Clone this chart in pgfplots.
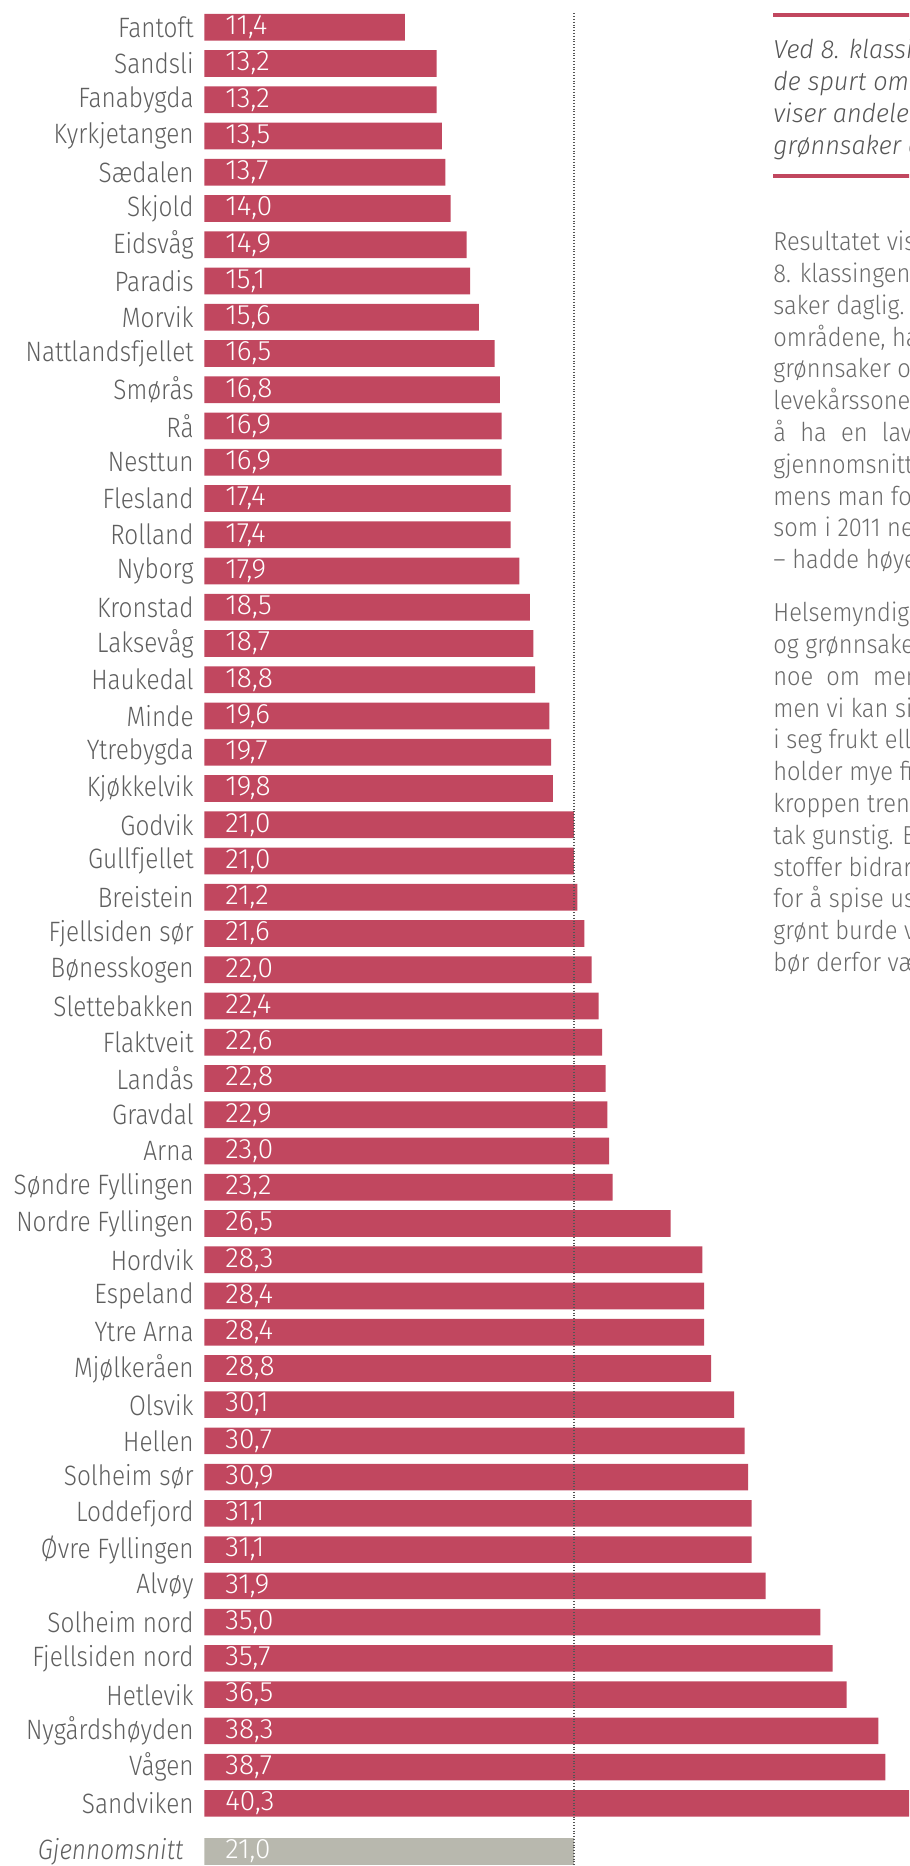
\documentclass[border=0pt]{standalone}
\usepackage{fontspec}
\usepackage{pgfplots}
\usepackage{pgfplotstable}
\pgfplotsset{compat=1.18}
\IfFontExistsTF{Fira Sans Light}{\def\basefam{Fira Sans Light}}{\def\basefam{Fira Sans}}
\setmainfont{\basefam}
\newfontfamily\labelfamily{\basefam}[FakeStretch=0.87]
\newfontfamily\valfamily{\basefam}
\newfontfamily\bodyfamily{\basefam}[FakeStretch=0.91]
\newfontfamily\italfamily{\basefam}[FakeStretch=0.97]
\newcommand\labelfont{\labelfamily\fontsize{14pt}{16pt}\selectfont}
\newcommand\valfont{\valfamily\fontsize{14pt}{16pt}\selectfont}
\newcommand\bodyfont{\bodyfamily\fontsize{13pt}{15.9pt}\selectfont}
\newcommand\italfont{\italfamily\fontsize{13pt}{15.9pt}\selectfont\itshape}
\definecolor{barred}{HTML}{C1475F}
\definecolor{avggray}{HTML}{B8B8AE}
\definecolor{labelgray}{HTML}{5F5F5F}
\definecolor{bodygray}{HTML}{6A6A6A}
\definecolor{italgray}{HTML}{555555}
\definecolor{dotgray}{HTML}{555555}

\pgfplotstableread{
y v
0 11.4
1 13.2
2 13.2
3 13.5
4 13.7
5 14.0
6 14.9
7 15.1
8 15.6
9 16.5
10 16.8
11 16.9
12 16.9
13 17.4
14 17.4
15 17.9
16 18.5
17 18.7
18 18.8
19 19.6
20 19.7
21 19.8
22 21.0
23 21.0
24 21.2
25 21.6
26 22.0
27 22.4
28 22.6
29 22.8
30 22.9
31 23.0
32 23.2
33 26.5
34 28.3
35 28.4
36 28.4
37 28.8
38 30.1
39 30.7
40 30.9
41 31.1
42 31.1
43 31.9
44 35.0
45 35.7
46 36.5
47 38.3
48 38.7
49 40.3
}\areas

\pgfplotstableread{
y v
50.33 21.0
}\avg

\begin{document}
\begin{tikzpicture}
\path[use as bounding box] (0pt,0pt) rectangle (454.5pt,-933pt);
\clip (0pt,0pt) rectangle (454.5pt,-933pt);
\begin{axis}[
  at={(102.15pt,0pt)}, anchor=north west,
  scale only axis,
  width=352.35pt, height=933pt,
  xmin=0, xmax=40.04,
  ymin=-0.753, ymax=50.73,
  y dir=reverse,
  axis line style={draw=none},
  major tick length=0pt,
  xtick=\empty,
  ytick={0,...,49},
  yticklabels={Fantoft, Sandsli, Fanabygda, Kyrkjetangen, Sædalen, Skjold, Eidsvåg, Paradis, Morvik, Nattlandsfjellet, Smørås, Rå, Nesttun, Flesland, Rolland, Nyborg, Kronstad, Laksevåg, Haukedal, Minde, Ytrebygda, Kjøkkelvik, Godvik, Gullfjellet, Breistein, Fjellsiden sør, Bønesskogen, Slettebakken, Flaktveit, Landås, Gravdal, Arna, Søndre Fyllingen, Nordre Fyllingen, Hordvik, Espeland, Ytre Arna, Mjølkeråen, Olsvik, Hellen, Solheim sør, Loddefjord, Øvre Fyllingen, Alvøy, Solheim nord, Fjellsiden nord, Hetlevik, Nygårdshøyden, Vågen, Sandviken},
  extra y ticks={50.33},
  extra y tick labels={\itshape Gjennomsnitt},
  yticklabel style={font=\labelfont, text=labelgray, inner xsep=0pt, xshift=-5.15pt},
  extra y tick style={yticklabel style={font=\labelfont, text=labelgray, inner xsep=0pt, xshift=-5.15pt}},
  /pgf/number format/.cd, fixed, fixed zerofill, precision=1, use comma, assume math mode=true,
]
\addplot[xbar, bar width=13.35pt, fill=barred, draw=none] table[x=v, y=y] {\areas};
\addplot[xbar, bar width=13.35pt, fill=avggray, draw=none] table[x=v, y=y] {\avg};
\addplot[dotgray, line width=0.6pt, dash pattern=on 0.5pt off 0.9pt] coordinates {(21.0,-0.386) (21.0,50.73)};
\addplot[draw=none, mark=none, point meta=explicit,
  nodes near coords={\pgfmathprintnumber{\pgfplotspointmeta}},
  every node near coord/.append style={anchor=west, font=\valfont, text=white, inner xsep=0pt, inner ysep=0pt, xshift=10.35pt}]
  table[x expr=0, y=y, meta=v] {\areas};
\addplot[draw=none, mark=none, point meta=explicit,
  nodes near coords={\pgfmathprintnumber{\pgfplotspointmeta}},
  every node near coord/.append style={anchor=west, font=\valfont, text=white, inner xsep=0pt, inner ysep=0pt, xshift=10.35pt}]
  table[x expr=0, y=y, meta=v] {\avg};
\end{axis}
% side panel
\fill[barred] (386.5pt,-6.65pt) rectangle (460pt,-8.4pt);
\fill[barred] (386.5pt,-87.25pt) rectangle (460pt,-89pt);
\foreach \t [count=\i from 0] in {
  {Ved 8. klassingers helseundersøkelse ble},
  {de spurt om hvor ofte de spiser frukt og},
  {viser andelen som ikke spiser frukt eller},
  {grønnsaker daglig.}}
  \node[anchor=base west, inner sep=0pt, font=\italfont, text=italgray] at (386.5pt,{-29.5pt-16pt*\i}) {\t};
\foreach \t [count=\i from 0] in {
  {Resultatet viser at 21 prosent av},
  {8. klassingene ikke spiser frukt og grønn-},
  {saker daglig. Det er store forskjeller mellom},
  {områdene, hadde andelen som ikke spiser frukt og},
  {grønnsaker og varierer. Flere av områdene i},
  {levekårssonene som i 2011 ble vurdert til},
  {å\hspace{0.55em}ha\hspace{0.55em}en\hspace{0.55em}lav\hspace{0.55em}levekårsscore, hadde høyere enn},
  {gjennomsnittlig andel som ikke spiser frukt,},
  {mens man for flere av områdene i levekårssonene},
  {som i 2011 nevnte vurdert til å ha høy levekårsscore},
  {– hadde høyere andel enn gjennomsnittet.}}
  \node[anchor=base west, inner sep=0pt, font=\bodyfont, text=bodygray] at (386.5pt,{-125.35pt-15.9pt*\i}) {\t};
\foreach \t [count=\i from 0] in {
  {Helsemyndighetene anbefaler at vi spiser frukt},
  {og grønnsaker daglig. Undersøkelsen sier ikke},
  {noe\hspace{0.5em}om\hspace{0.5em}mengden frukt og grønnsaker man spiser,},
  {men vi kan si noe om hvor mange som ikke får},
  {i seg frukt eller grønnsaker daglig. Frukt og grønt},
  {holder mye fiber, vitaminer og mineraler som},
  {kroppen trenger, og er derfor for helsen gjennom-},
  {tak gunstig. Både fiber og andre nærings-},
  {stoffer bidrar til god helse. Det er derfor viktig},
  {for å spise usunt mindre, og andelen som spiser},
  {grønt burde vært høyere. Frukt og grønnsaker},
  {bør derfor være en del av et sunt kosthold.}}
  \node[anchor=base west, inner sep=0pt, font=\bodyfont, text=bodygray] at (386.5pt,{-310.85pt-15.9pt*\i}) {\t};
\end{tikzpicture}
\end{document}
